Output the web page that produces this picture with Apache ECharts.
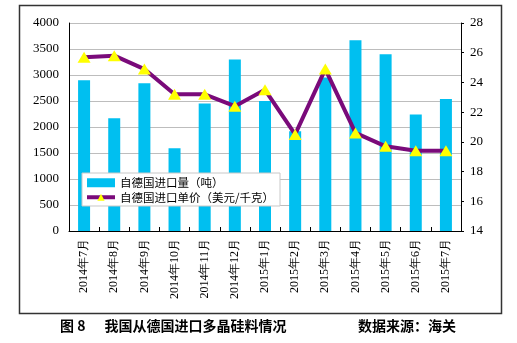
<!DOCTYPE html>
<html>
<head>
<meta charset="utf-8">
<script src="https://cdn.jsdelivr.net/npm/echarts@6/dist/echarts.min.js"></script>
<style>
  html, body { margin: 0; padding: 0; background: #fff; }
  #chart { width: 517px; height: 343px; }
</style>
</head>
<body>
<div id="chart"></div>
<script>
// Monthly polysilicon imports from Germany
const months = ['2014年7月', '2014年8月', '2014年9月', '2014年10月', '2014年11月', '2014年12月',
  '2015年1月', '2015年2月', '2015年3月', '2015年4月', '2015年5月', '2015年6月', '2015年7月'];
const volumeTons = [2900, 2170, 2840, 1590, 2450, 3300, 2500, 1920, 2950, 3670, 3400, 2240, 2540];
const unitPrice = [25.7, 25.8, 24.9, 23.2, 23.2, 22.4, 23.5, 20.5, 24.9, 20.6, 19.7, 19.4, 19.4];
const volumeName = '自德国进口量（吨）';
const priceName = '自德国进口单价（美元/千克）';
const captionLeft = '图 8      我国从德国进口多晶硅料情况';
const captionRight = '数据来源：海关';

const serif = 'Liberation Serif';
const cjk = 'Noto Sans CJK SC';

const chart = echarts.init(document.getElementById('chart'), null, { renderer: 'canvas' });
chart.setOption({
  animation: false,
  backgroundColor: '#fff',
  textStyle: { fontFamily: serif },
  grid: { left: 69, right: 56, top: 23, bottom: 112, containLabel: false },
  legend: {
    left: 82, top: 173,
    orient: 'vertical',
    backgroundColor: '#fff',
    borderColor: '#c8c8c8',
    borderWidth: 1,
    padding: [4, 6, 3, 3],
    itemGap: 3,
    itemWidth: 28,
    itemHeight: 9,
    textStyle: { fontFamily: cjk, fontSize: 11.5, color: '#000' },
    data: [
      { name: volumeName, icon: 'rect' },
      { name: priceName, lineStyle: { width: 4, color: '#7A0A7A' } }
    ]
  },
  xAxis: {
    type: 'category',
    data: months,
    axisLine: { lineStyle: { color: '#000', width: 1 } },
    axisTick: { show: true, inside: true, length: 4, alignWithLabel: false, lineStyle: { color: '#000' } },
    axisLabel: { rotate: 90, fontFamily: serif, fontSize: 12, color: '#000', margin: 8, interval: 0 }
  },
  yAxis: [
    {
      type: 'value', min: 0, max: 4000, interval: 500,
      axisLine: { show: true, lineStyle: { color: '#000' } },
      axisTick: { show: false },
      axisLabel: { fontFamily: serif, fontSize: 13, color: '#000', margin: 10, formatter: v => String(v) },
      splitLine: { show: true, lineStyle: { color: '#bdbdbd', width: 1 } }
    },
    {
      type: 'value', min: 14, max: 28, interval: 2,
      axisLine: { show: true, lineStyle: { color: '#000' } },
      axisTick: { show: true, length: 3, lineStyle: { color: '#000' } },
      axisLabel: { fontFamily: serif, fontSize: 13, color: '#000', margin: 9, formatter: v => String(v) },
      splitLine: { show: false }
    }
  ],
  series: [
    {
      name: volumeName,
      type: 'bar',
      yAxisIndex: 0,
      data: volumeTons,
      barWidth: 12,
      itemStyle: { color: '#00BFF0' }
    },
    {
      name: priceName,
      type: 'line',
      yAxisIndex: 1,
      data: unitPrice,
      symbol: 'triangle',
      symbolSize: [13, 11],
      lineStyle: { color: '#7A0A7A', width: 4 },
      itemStyle: { color: '#FFFF00', borderWidth: 0 },
      z: 3
    }
  ],
  graphic: [
    {
      type: 'rect', left: 17, top: 3, silent: true,
      shape: { width: 482, height: 308 },
      style: { fill: 'none', stroke: '#333', lineWidth: 1.5 }
    },
    {
      type: 'text', left: 60, top: 319,
      style: { text: captionLeft, font: 'bold 14px "' + cjk + '"', fill: '#000' }
    },
    {
      type: 'text', left: 358, top: 319,
      style: { text: captionRight, font: 'bold 14px "' + cjk + '"', fill: '#000' }
    }
  ]
});
</script>
</body>
</html>
